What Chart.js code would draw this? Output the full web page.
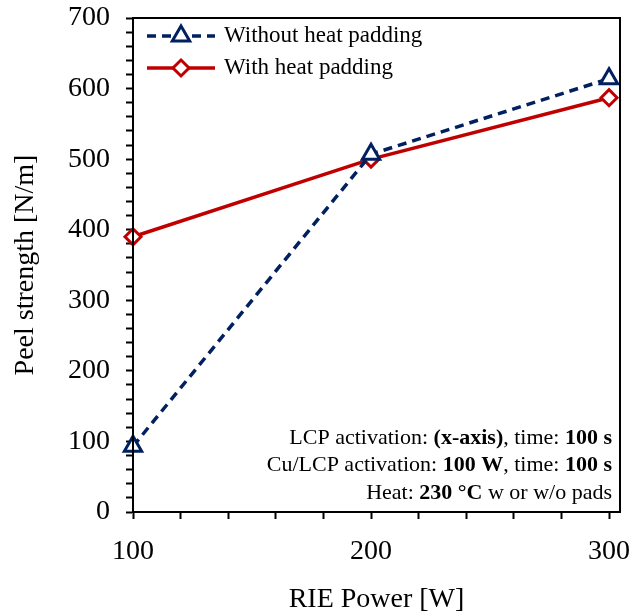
<!DOCTYPE html>
<html>
<head>
<meta charset="utf-8">
<script src="https://cdn.jsdelivr.net/npm/chart.js@4"></script>
<style>
  body { margin: 0; background: #fff; }
  #wrap { width: 633px; height: 616px; }
</style>
</head>
<body>
<div id="wrap"><canvas id="peelChart" width="633" height="616"></canvas></div>
<script>
// Data
const rfPower = [100, 200, 300];
const withoutPadding = [93, 507, 614];
const withPadding = [390, 500, 587];
const seriesNames = ['Without heat padding', 'With heat padding'];
const xTickValues = [100, 120, 140, 160, 180, 200, 220, 240, 260, 280, 300];
const xLabelValues = [100, 200, 300];

// Notes in the lower right corner: [text, bold] pieces per line
const noteLines = [
    [['LCP activation: ', false], ['(x-axis)', true], [', time: ', false], ['100 s', true]],
    [['Cu/LCP activation: ', false], ['100 W', true], [', time: ', false], ['100 s', true]],
    [['Heat: ', false], ['230 \u00B0C', true], [' w or w/o pads', false]]
];

const serif = "'Liberation Serif', 'Times New Roman', serif";
const navy = '#002060';
const red = '#C00000';

function drawMarker(ctx, style, x, y, r) {
    if (style === 'triangle') {
        ctx.moveTo(x, y - r);
        ctx.lineTo(x + r * 0.87, y + r * 0.5);
        ctx.lineTo(x - r * 0.87, y + r * 0.5);
        ctx.closePath();
    } else {
        ctx.moveTo(x, y - r);
        ctx.lineTo(x + r, y);
        ctx.lineTo(x, y + r);
        ctx.lineTo(x - r, y);
        ctx.closePath();
    }
}

// keep label overflow from pushing the plot area around
function noScalePadding(scale) {
    scale.paddingTop = 0;
    scale.paddingBottom = 0;
    scale.paddingLeft = 0;
    scale.paddingRight = 0;
}

// Plugin: frame around plot, in-plot legend and note text
const decorPlugin = {
    id: 'decor',
    afterDraw(chart) {
        const ctx = chart.ctx;
        const area = chart.chartArea;
        ctx.save();

        // box around the plot area
        ctx.strokeStyle = '#000';
        ctx.lineWidth = 2;
        ctx.strokeRect(area.left, area.top, area.right - area.left, area.bottom - area.top);

        // legend
        chart.data.datasets.forEach((ds, i) => {
            const y = 36 + i * 32;
            ctx.strokeStyle = ds.borderColor;
            ctx.lineWidth = ds.borderWidth;
            ctx.setLineDash(ds.borderDash || []);
            ctx.beginPath();
            ctx.moveTo(147, y);
            ctx.lineTo(215, y);
            ctx.stroke();
            ctx.setLineDash([]);
            ctx.fillStyle = '#fff';
            ctx.lineWidth = ds.pointBorderWidth;
            ctx.beginPath();
            drawMarker(ctx, ds.pointStyle, 181, y, ds.pointRadius);
            ctx.fill();
            ctx.stroke();
            ctx.fillStyle = '#000';
            ctx.font = '23px ' + serif;
            ctx.textAlign = 'left';
            ctx.textBaseline = 'middle';
            ctx.fillText(ds.label, 224, y);
        });

        // notes, right aligned
        const right = area.right - 8;
        ctx.textBaseline = 'middle';
        ctx.textAlign = 'left';
        ctx.fillStyle = '#000';
        noteLines.forEach((parts, i) => {
            const y = 438 + i * 27.5;
            let total = 0;
            parts.forEach(p => {
                ctx.font = (p[1] ? 'bold ' : '') + '22px ' + serif;
                total += ctx.measureText(p[0]).width;
            });
            let x = right - total;
            parts.forEach(p => {
                ctx.font = (p[1] ? 'bold ' : '') + '22px ' + serif;
                ctx.fillText(p[0], x, y);
                x += ctx.measureText(p[0]).width;
            });
        });
        ctx.restore();
    }
};

const ctx = document.getElementById('peelChart').getContext('2d');
new Chart(ctx, {
    type: 'line',
    data: {
        datasets: [{
            label: seriesNames[0],
            data: rfPower.map((x, i) => ({ x: x, y: withoutPadding[i] })),
            borderColor: navy,
            borderWidth: 3.5,
            borderDash: [9, 6],
            pointStyle: 'triangle',
            pointRadius: 10,
            pointBorderWidth: 3,
            pointBackgroundColor: '#fff',
            pointBorderColor: navy,
            clip: false,
            tension: 0
        }, {
            label: seriesNames[1],
            data: rfPower.map((x, i) => ({ x: x, y: withPadding[i] })),
            borderColor: red,
            borderWidth: 3.5,
            pointStyle: 'rectRot',
            pointRadius: 8,
            pointBorderWidth: 3,
            pointBackgroundColor: '#fff',
            pointBorderColor: red,
            clip: false,
            tension: 0
        }]
    },
    options: {
        responsive: false,
        animation: false,
        layout: { padding: { top: 18, right: 13, left: 0, bottom: 0 } },
        plugins: {
            legend: { display: false },
            tooltip: { enabled: false }
        },
        scales: {
            x: {
                type: 'linear',
                min: 100,
                max: 304.6,
                afterBuildTicks: scale => {
                    scale.ticks = xTickValues.map(v => ({ value: v }));
                },
                afterFit: scale => {
                    scale.height = 104;
                    noScalePadding(scale);
                },
                ticks: {
                    autoSkip: false,
                    maxRotation: 0,
                    color: '#000',
                    padding: 16,
                    font: { family: serif, size: 28 },
                    callback: v => xLabelValues.includes(v) ? String(v) : ''
                },
                grid: {
                    drawOnChartArea: false,
                    tickLength: 7,
                    tickColor: '#000',
                    tickWidth: 2
                },
                border: { color: '#000', width: 2 },
                title: {
                    display: true,
                    text: 'RIE Power [W]',
                    color: '#000',
                    font: { family: serif, size: 28 },
                    padding: { top: 0, bottom: 0 }
                }
            },
            y: {
                min: 0,
                max: 700,
                afterFit: scale => {
                    scale.width = 133;
                    noScalePadding(scale);
                },
                ticks: {
                    stepSize: 20,
                    autoSkip: false,
                    color: '#000',
                    padding: 16,
                    font: { family: serif, size: 28 },
                    callback: v => v % 100 === 0 ? String(v) : ''
                },
                grid: {
                    drawOnChartArea: false,
                    tickLength: 7,
                    tickColor: '#000',
                    tickWidth: 2
                },
                border: { color: '#000', width: 2 },
                title: {
                    display: true,
                    text: 'Peel strength [N/m]',
                    color: '#000',
                    font: { family: serif, size: 28 },
                    padding: { top: 9, bottom: 0 }
                }
            }
        }
    },
    plugins: [decorPlugin]
});
</script>
</body>
</html>
